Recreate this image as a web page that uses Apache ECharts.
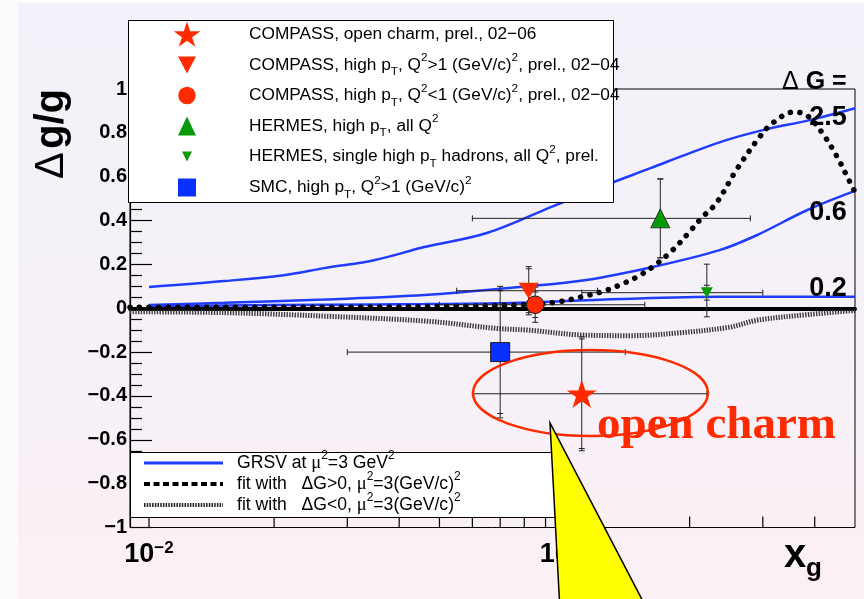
<!DOCTYPE html>
<html>
<head>
<meta charset="utf-8">
<script src="https://cdn.jsdelivr.net/npm/echarts@6/dist/echarts.min.js"></script>
<style>
  html, body { margin: 0; padding: 0; background: #fcfcfd; }
  #chart { width: 864px; height: 599px; }
</style>
</head>
<body>
<div id="chart"></div>
<script>
// ---- Measurements of the gluon polarisation Δg/g ----
const pointNames = ['COMPASS open charm', 'COMPASS high pT Q2>1', 'COMPASS high pT Q2<1',
                    'HERMES high pT', 'HERMES single high pT hadrons', 'SMC high pT'];
const pointX     = [0.11, 0.082, 0.085, 0.17, 0.22, 0.07];
const pointY     = [-0.39, 0.08, 0.016, 0.41, 0.071, -0.20];
const xLow       = [0.06, 0.055, 0.05, 0.06, 0.11, 0.03];
const xHigh      = [0.22, 0.12, 0.156, 0.28, 0.30, 0.14];
const statErr    = [0.25, 0.10, 0.058, 0.18, 0.034, 0.28];
const totErrUp   = [0.26, 0.11, 0.08, 0.18, 0.13, 0.30];
const totErrDown = [0.26, 0.11, 0.08, 0.18, 0.11, 0.30];

// ---- GRSV Δg/g at μ² = 3 GeV² for three values of ΔG ----
const grsv25 = [[0.01, 0.097], [0.0152, 0.124], [0.0211, 0.151], [0.0264, 0.183], [0.0348, 0.219],
                [0.046, 0.279], [0.065, 0.343], [0.094, 0.466], [0.125, 0.56], [0.161, 0.639],
                [0.203, 0.712], [0.245, 0.767], [0.307, 0.817], [0.389, 0.858], [0.5, 0.912]];
const grsv06 = [[0.01, 0.015], [0.0152, 0.025], [0.0264, 0.04], [0.046, 0.06], [0.078, 0.097],
                [0.113, 0.129], [0.163, 0.188], [0.236, 0.265], [0.29, 0.333], [0.383, 0.447], [0.5, 0.535]];
const grsv02 = [[0.01, 0.01], [0.0152, 0.013], [0.0264, 0.016], [0.046, 0.019], [0.078, 0.025],
                [0.136, 0.042], [0.236, 0.052], [0.5, 0.052]];

// ---- global fits ----
const fitPos = [[0.009, 0.004], [0.03, 0.005], [0.06, 0.01], [0.0857, 0.019], [0.0973, 0.03],
                [0.11, 0.052], [0.1227, 0.075], [0.1358, 0.106], [0.149, 0.142], [0.163, 0.189],
                [0.182, 0.265], [0.2, 0.349], [0.215, 0.417], [0.232, 0.48], [0.259, 0.63],
                [0.295, 0.782], [0.317, 0.845], [0.356, 0.895], [0.383, 0.88], [0.418, 0.797],
                [0.453, 0.69], [0.479, 0.6], [0.5, 0.53]];
const fitNeg = [[0.009, -0.016], [0.0152, -0.02], [0.0272, -0.037], [0.0474, -0.06], [0.0686, -0.092],
                [0.082, -0.1], [0.11, -0.122], [0.144, -0.125], [0.189, -0.112], [0.25, -0.086],
                [0.29, -0.055], [0.389, -0.028], [0.5, -0.01]];

// ---- axis ticks ----
const xMajorTicks = [0.01, 0.1];
const xMinorTicks = [0.02, 0.03, 0.04, 0.05, 0.06, 0.07, 0.08, 0.09, 0.2, 0.3, 0.4];
const yTickStep = 0.2;

const RED = '#ff2a00', GREEN = '#089a08', BLUE = '#0a30ff', CURVE = '#1f3cff';
const SANS = '"Liberation Sans", Arial, Helvetica, sans-serif';
const SERIF = '"Liberation Serif", "Times New Roman", serif';

const starPath = 'path://M0,-1 L0.2245,-0.309 L0.951,-0.309 L0.363,0.118 L0.588,0.809 L0,0.382 ' +
                 'L-0.588,0.809 L-0.363,0.118 L-0.951,-0.309 L-0.2245,-0.309 Z';

function starPoints(cx, cy, R) {
  const pts = [];
  for (let k = 0; k < 10; k++) {
    const a = -Math.PI / 2 + k * Math.PI / 5;
    const rad = k % 2 ? R * 0.382 : R;
    pts.push([cx + rad * Math.cos(a), cy + rad * Math.sin(a)]);
  }
  return pts;
}
function triPoints(cx, cy, w, h, down) {
  return down ? [[cx - w / 2, cy - h / 2], [cx + w / 2, cy - h / 2], [cx, cy + h / 2]]
              : [[cx - w / 2, cy + h / 2], [cx + w / 2, cy + h / 2], [cx, cy - h / 2]];
}

function errorBars(params, api) {
  const i = api.value(2);
  const x = pointX[i], y = pointY[i];
  const c = api.coord([x, y]);
  const l = api.coord([xLow[i], y]);
  const r = api.coord([xHigh[i], y]);
  const t = api.coord([x, y + totErrUp[i]]);
  const b = api.coord([x, y - totErrDown[i]]);
  const st = api.coord([x, y + statErr[i]]);
  const sb = api.coord([x, y - statErr[i]]);
  const cap = 3;
  const seg = (x1, y1, x2, y2) => ({ type: 'line', shape: { x1, y1, x2, y2 },
                                      style: { stroke: '#222', lineWidth: 1 } });
  return { type: 'group', children: [
    seg(l[0], c[1], r[0], c[1]),
    seg(l[0], c[1] - cap, l[0], c[1] + cap),
    seg(r[0], c[1] - cap, r[0], c[1] + cap),
    seg(c[0], t[1], c[0], b[1]),
    seg(c[0] - cap, t[1], c[0] + cap, t[1]),
    seg(c[0] - cap, b[1], c[0] + cap, b[1]),
    seg(c[0] - cap, st[1], c[0] + cap, st[1]),
    seg(c[0] - cap, sb[1], c[0] + cap, sb[1])
  ] };
}

function xTicks(params, api) {
  const v = api.value(0);
  const major = api.value(1) === 1;
  const p = api.coord([v, -1]);
  return { type: 'line', shape: { x1: p[0], y1: p[1], x2: p[0], y2: p[1] - (major ? 20 : 11) },
           style: { stroke: '#000', lineWidth: 1.2 } };
}

function makeRich(size) {
  return {
    t: { fontSize: size, fontFamily: SANS, fill: '#000', lineHeight: 26 },
    sup: { fontSize: size * 0.68, fontFamily: SANS, fill: '#000', verticalAlign: 'top', lineHeight: 12 },
    sub: { fontSize: size * 0.68, fontFamily: SANS, fill: '#000', verticalAlign: 'bottom', lineHeight: 12 },
    mu: { fontSize: size * 1.05, fontFamily: SERIF, fill: '#000', lineHeight: 26 },
    d: { fontSize: size, fontFamily: SANS, fill: '#000', lineHeight: 26 }
  };
}
const topLegendText = [
  '{t|COMPASS, open charm, prel., 02\u221206}',
  '{t|COMPASS, high p}{sub|T}{t|, Q}{sup|2}{t|>1 (GeV/c)}{sup|2}{t|, prel., 02\u221204}',
  '{t|COMPASS, high p}{sub|T}{t|, Q}{sup|2}{t|<1 (GeV/c)}{sup|2}{t|, prel., 02\u221204}',
  '{t|HERMES, high p}{sub|T}{t|, all Q}{sup|2}',
  '{t|HERMES, single high p}{sub|T}{t| hadrons, all Q}{sup|2}{t|, prel.}',
  '{t|SMC, high p}{sub|T}{t|, Q}{sup|2}{t|>1 (GeV/c)}{sup|2}'
];
const bottomLegendText = [
  '{t|GRSV at }{mu|\u03bc}{sup|2}{t|=3 GeV}{sup|2}',
  '{t|fit with   }{d|\u0394}{t|G>0, }{mu|\u03bc}{sup|2}{t|=3(GeV/c)}{sup|2}',
  '{t|fit with   }{d|\u0394}{t|G<0, }{mu|\u03bc}{sup|2}{t|=3(GeV/c)}{sup|2}'
];

const LX = 187, rowY = [34.5, 65, 95.5, 126, 156.5, 187.5];
const graphics = [
  // page background
  { type: 'rect', z: -100, shape: { x: 18, y: 3, width: 846, height: 596 },
    style: { fill: new echarts.graphic.LinearGradient(0, 0, 0, 1, [
      { offset: 0, color: '#f3f1f9' }, { offset: 0.55, color: '#f6f1f8' }, { offset: 1, color: '#fbf0f5' }]) } },
  // axis titles
  { type: 'text', z: 50, x: 52, y: 134, rotation: Math.PI / 2,
    style: { text: '{d|\u0394} {g|g/g}', align: 'center', verticalAlign: 'middle',
             rich: { d: { fontSize: 40, fontFamily: SANS, fill: '#000' },
                     g: { fontSize: 40, fontFamily: SANS, fontWeight: 'bold', fill: '#000' } } } },
  { type: 'text', z: 50, x: 784, y: 556,
    style: { text: 'x', font: 'bold 40px ' + SANS, fill: '#000', align: 'left', verticalAlign: 'middle' } },
  { type: 'text', z: 50, x: 806, y: 569,
    style: { text: 'g', font: 'bold 26px ' + SANS, fill: '#000', align: 'left', verticalAlign: 'middle' } },
  // ΔG labels of the GRSV curves
  { type: 'text', z: 50, x: 782, y: 82,
    style: { text: '{d|\u0394}{g| G =}', align: 'left', verticalAlign: 'middle',
             rich: { d: { fontSize: 25, fontFamily: SANS, fill: '#000' },
                     g: { fontSize: 25, fontFamily: SANS, fontWeight: 'bold', fill: '#000' } } } },
  { type: 'text', z: 50, x: 828, y: 118, style: { text: '2.5', font: 'bold 27px ' + SANS, fill: '#000', align: 'center', verticalAlign: 'middle' } },
  { type: 'text', z: 50, x: 828, y: 212.5, style: { text: '0.6', font: 'bold 27px ' + SANS, fill: '#000', align: 'center', verticalAlign: 'middle' } },
  { type: 'text', z: 50, x: 828, y: 288.5, style: { text: '0.2', font: 'bold 27px ' + SANS, fill: '#000', align: 'center', verticalAlign: 'middle' } },
  // top legend
  { type: 'rect', z: 100, shape: { x: 128.5, y: 20.5, width: 485, height: 182 },
    style: { fill: '#fff', stroke: '#000', lineWidth: 1 } },
  { type: 'polygon', z: 101, shape: { points: starPoints(LX, rowY[0] + 1, 14) }, style: { fill: RED } },
  { type: 'polygon', z: 101, shape: { points: triPoints(LX, rowY[1], 18, 17, true) }, style: { fill: RED } },
  { type: 'circle', z: 101, shape: { cx: LX, cy: rowY[2], r: 8.7 }, style: { fill: RED } },
  { type: 'polygon', z: 101, shape: { points: triPoints(LX, rowY[3], 18, 19, false) }, style: { fill: GREEN } },
  { type: 'polygon', z: 101, shape: { points: triPoints(LX, rowY[4], 10, 10, true) }, style: { fill: GREEN } },
  { type: 'rect', z: 101, shape: { x: LX - 9, y: rowY[5] - 9, width: 18, height: 18 }, style: { fill: BLUE } },
  // bottom legend
  { type: 'rect', z: 100, shape: { x: 130.5, y: 452.5, width: 430, height: 65 },
    style: { fill: '#fff', stroke: '#000', lineWidth: 1 } },
  { type: 'line', z: 101, shape: { x1: 144, y1: 463, x2: 223, y2: 463 }, style: { stroke: CURVE, lineWidth: 3 } },
  { type: 'line', z: 101, shape: { x1: 144, y1: 484, x2: 223, y2: 484 }, style: { stroke: '#000', lineWidth: 4, lineDash: [6, 3.5] } },
  { type: 'line', z: 101, shape: { x1: 144, y1: 505, x2: 223, y2: 505 }, style: { stroke: '#222', lineWidth: 4, lineDash: [1.5, 1.2] } },
  // annotation: ellipse, text and pointer
  { type: 'ellipse', z: 150, shape: { cx: 590.5, cy: 393, rx: 117.5, ry: 43 },
    style: { fill: 'none', stroke: RED, lineWidth: 2.4 } },
  { type: 'text', z: 151, x: 597, y: 426,
    style: { text: 'open charm', font: 'bold 47px ' + SERIF, fill: RED, align: 'left', verticalAlign: 'middle' } },
  { type: 'polygon', z: 200, shape: { points: [[550, 423], [560.5, 620], [652.7, 620]] },
    style: { fill: '#ffff00', stroke: '#000', lineWidth: 1.5 } }
];
const topRich = makeRich(17.3);
const bottomRich = makeRich(17.6);
topLegendText.forEach((txt, k) => graphics.push({ type: 'text', z: 101, x: 249, y: rowY[k],
  style: { text: txt, rich: topRich, align: 'left', verticalAlign: 'middle' } }));
bottomLegendText.forEach((txt, k) => graphics.push({ type: 'text', z: 101, x: 237, y: [463, 484, 505][k],
  style: { text: txt, rich: bottomRich, align: 'left', verticalAlign: 'middle' } }));

const markerSeries = [
  { i: 0, symbol: starPath, size: [30, 28.5], color: RED, border: 0 },
  { i: 1, symbol: 'triangle', size: [20, 16], color: RED, rotate: 180, border: 0 },
  { i: 2, symbol: 'circle', size: 17.5, color: RED, border: 1 },
  { i: 3, symbol: 'triangle', size: [19, 19], color: GREEN, border: 0.8 },
  { i: 4, symbol: 'triangle', size: [12, 11], color: GREEN, rotate: 180, border: 0 },
  { i: 5, symbol: 'rect', size: 19, color: BLUE, border: 1 }
].map(m => ({
  type: 'scatter', name: pointNames[m.i], z: 8,
  data: [[pointX[m.i], pointY[m.i]]],
  symbol: m.symbol, symbolSize: m.size, symbolRotate: m.rotate || 0,
  itemStyle: { color: m.color, borderColor: '#1a1a1a', borderWidth: m.border, opacity: 1 }
}));

const curve = (name, data, style, z) => ({
  type: 'line', name, data, smooth: 0.35, symbol: 'none', z: z || 3,
  lineStyle: style, silent: true
});

const option = {
  animation: false,
  backgroundColor: 'transparent',
  grid: { left: 130, right: 9, top: 89, bottom: 71.5, show: true, borderColor: '#000', borderWidth: 1,
          outerBoundsMode: 'none', containLabel: false },
  xAxis: {
    type: 'log', logBase: 10, min: 0.009, max: 0.5,
    axisLine: { show: true, lineStyle: { color: '#000', width: 4 } },
    axisTick: { show: false }, minorTick: { show: false }, splitLine: { show: false },
    axisLabel: {
      margin: 12, color: '#000',
      formatter: v => {
        const e = Math.log10(v);
        if (Math.abs(e - Math.round(e)) > 1e-6) return '';
        return '{b|10}{s|' + (Math.round(e) < 0 ? '\u2212' : '') + Math.abs(Math.round(e)) + '}';
      },
      rich: { b: { fontSize: 27, fontWeight: 'bold', fontFamily: SANS, color: '#000', lineHeight: 30 },
              s: { fontSize: 17, fontWeight: 'bold', fontFamily: SANS, color: '#000', verticalAlign: 'top', lineHeight: 14 } }
    }
  },
  yAxis: {
    type: 'value', min: -1, max: 1, interval: yTickStep,
    axisLine: { show: true, lineStyle: { color: '#000', width: 1.2 } },
    axisTick: { show: true, inside: true, length: 22, lineStyle: { color: '#000', width: 1.2 } },
    minorTick: { show: true, splitNumber: 4, length: 12, lineStyle: { color: '#000', width: 1.2 } },
    splitLine: { show: false },
    axisLabel: {
      margin: 3, color: '#000', fontSize: 20, fontWeight: 'bold', fontFamily: SANS, padding: [5, 0, 0, 0],
      formatter: v => {
        const k = Math.round(v / yTickStep);
        if (Math.abs(v / yTickStep - k) > 1e-6) return '';
        const a = Math.abs(Math.round(v * 10) / 10);
        return (v < -1e-9 ? '\u2212' : '') + String(a);
      }
    }
  },
  series: [
    Object.assign(curve('fit ΔG<0', fitNeg, { color: '#3a3a3a', width: 5, type: [1.4, 1.3] }, 3), {
      markLine: { silent: true, symbol: 'none', label: { show: false }, animation: false,
                  data: [{ yAxis: 0 }], lineStyle: { color: '#000', width: 3, type: 'solid' } }
    }),
    curve('GRSV ΔG=2.5', grsv25, { color: CURVE, width: 2.5 }, 4),
    curve('GRSV ΔG=0.6', grsv06, { color: CURVE, width: 2.5 }, 4),
    curve('GRSV ΔG=0.2', grsv02, { color: CURVE, width: 2.5 }, 4),
    curve('fit ΔG>0', fitPos, { color: '#000', width: 5.5, type: [0.1, 9.5], cap: 'round' }, 5),
    { type: 'custom', name: 'errors', z: 7, renderItem: errorBars, silent: true,
      data: pointX.map((x, i) => [x, pointY[i], i]) },
    ...markerSeries,
    { type: 'custom', name: 'xticks', z: 6, renderItem: xTicks, silent: true, clip: false,
      data: xMajorTicks.map(v => [v, 1]).concat(xMinorTicks.map(v => [v, 0])) }
  ],
  graphic: { elements: graphics }
};

const chart = echarts.init(document.getElementById('chart'));
chart.setOption(option);
</script>
</body>
</html>
